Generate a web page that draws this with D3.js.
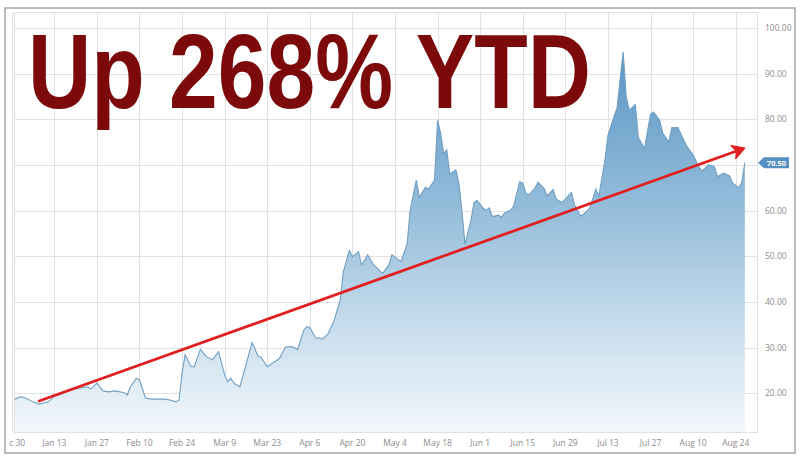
<!DOCTYPE html>
<html>
<head>
<meta charset="utf-8">
<script src="https://cdn.jsdelivr.net/npm/d3@7"></script>
<style>
  html, body { margin: 0; padding: 0; background: #ffffff; }
  svg { display: block; }
</style>
</head>
<body>
<svg id="chart" width="802" height="463"></svg>
<script>
// ---------------- DATA ----------------
const dates = [
  "2019-12-31","2020-01-02","2020-01-03","2020-01-06","2020-01-08","2020-01-11","2020-01-13","2020-01-16",
  "2020-01-19","2020-01-21","2020-01-24","2020-01-25","2020-01-27","2020-01-29","2020-01-31","2020-02-02",
  "2020-02-05","2020-02-06","2020-02-07","2020-02-09","2020-02-10","2020-02-12","2020-02-14","2020-02-18",
  "2020-02-20","2020-02-22","2020-02-23","2020-02-24","2020-02-25","2020-02-27","2020-02-28","2020-03-01",
  "2020-03-03","2020-03-05","2020-03-07","2020-03-09","2020-03-10","2020-03-11","2020-03-12","2020-03-14",
  "2020-03-16","2020-03-18","2020-03-20","2020-03-21","2020-03-23","2020-03-27","2020-03-29","2020-03-31",
  "2020-04-02","2020-04-04","2020-04-05","2020-04-06","2020-04-08","2020-04-09","2020-04-10","2020-04-12",
  "2020-04-14","2020-04-16","2020-04-17","2020-04-19","2020-04-20","2020-04-22","2020-04-23","2020-04-25",
  "2020-04-27","2020-04-28","2020-04-29","2020-04-30","2020-05-02","2020-05-03","2020-05-05","2020-05-06",
  "2020-05-08","2020-05-09","2020-05-11","2020-05-12","2020-05-14","2020-05-15","2020-05-17","2020-05-18",
  "2020-05-19","2020-05-20","2020-05-21","2020-05-22","2020-05-24","2020-05-25","2020-05-26","2020-05-27",
  "2020-05-29","2020-05-30","2020-05-31","2020-06-02","2020-06-03","2020-06-04","2020-06-05","2020-06-07",
  "2020-06-08","2020-06-09","2020-06-11","2020-06-12","2020-06-14","2020-06-15","2020-06-16","2020-06-17",
  "2020-06-19","2020-06-20","2020-06-22","2020-06-23","2020-06-25","2020-06-26","2020-06-28","2020-07-01",
  "2020-07-02","2020-07-04","2020-07-05","2020-07-07","2020-07-08","2020-07-09","2020-07-10","2020-07-12",
  "2020-07-13","2020-07-15","2020-07-16","2020-07-18","2020-07-19","2020-07-20","2020-07-22","2020-07-23",
  "2020-07-25","2020-07-27","2020-07-28","2020-07-30","2020-07-31","2020-08-02","2020-08-03","2020-08-05",
  "2020-08-07","2020-08-08","2020-08-10","2020-08-12","2020-08-13","2020-08-15","2020-08-17","2020-08-18",
  "2020-08-20","2020-08-22","2020-08-23","2020-08-25","2020-08-26","2020-08-27"
];
const prices = [
  18.7,19.2,19.1,18.1,17.6,18.1,19.3,20.0,
  20.8,21.1,21.4,20.9,22.2,20.5,20.3,20.5,
  20.1,19.6,21.4,23.3,22.9,18.9,18.7,18.7,
  18.5,18.1,18.5,24.4,28.4,25.8,25.8,29.6,
  28.0,27.3,29.1,24.0,22.5,23.3,22.2,21.4,
  26.2,31.1,28.1,27.9,25.8,27.6,30.1,30.2,
  29.6,33.8,34.6,34.4,32.0,32.2,31.8,33.0,
  36.0,40.4,46.5,51.3,49.9,51.0,48.1,50.3,
  48.1,47.5,46.8,46.3,48.1,50.3,49.3,48.8,
  52.8,60.1,66.7,62.9,65.1,64.7,66.7,79.8,
  76.9,72.5,73.3,68.0,68.9,66.0,60.0,52.6,
  58.0,61.8,62.2,60.5,60.1,60.6,58.7,59.0,
  58.5,59.5,60.1,61.0,66.3,66.0,63.8,63.4,
  64.9,66.2,64.9,63.2,64.6,62.5,61.8,64.0,
  61.2,58.8,59.2,60.5,62.5,64.7,63.2,71.0,
  76.5,80.6,82.5,94.8,85.0,82.0,83.2,76.0,
  73.6,81.1,81.6,79.8,77.0,75.0,78.2,78.2,
  75.3,74.0,72.2,69.4,68.7,70.0,69.6,67.4,
  68.2,67.6,66.0,65.0,66.2,70.5
];
const xTickDates = ["2019-12-30","2020-01-13","2020-01-27","2020-02-10","2020-02-24","2020-03-09","2020-03-23",
  "2020-04-06","2020-04-20","2020-05-04","2020-05-18","2020-06-01","2020-06-15","2020-06-29","2020-07-13",
  "2020-07-27","2020-08-10","2020-08-24"];
const xTickLabels = ["Dec 30","Jan 13","Jan 27","Feb 10","Feb 24","Mar 9","Mar 23","Apr 6","Apr 20","May 4",
  "May 18","Jun 1","Jun 15","Jun 29","Jul 13","Jul 27","Aug 10","Aug 24"];
const yTicks = [20, 30, 40, 50, 60, 70, 80, 90, 100];
const lastPrice = 70.50;
const titleText = "Up 268% YTD";
const arrowFrom = ["2020-01-08", 18.3];
const arrowTo = ["2020-08-27", 73.7];

// ---------------- SETUP ----------------
const parse = d3.timeParse("%Y-%m-%d");
const series = dates.map((d, i) => ({ date: parse(d), value: prices[i] }));

const svg = d3.select("#chart");
const W = 802, H = 463;
const plot = { left: 14, right: 757, top: 12, bottom: 432 };

const x = d3.scaleTime()
  .domain([new Date(2019, 11, 30, 18), new Date(2020, 7, 31, 0)])
  .range([plot.left, plot.right]);
const y = d3.scaleLinear()
  .domain([11.5, 103.5])
  .range([plot.bottom, plot.top]);

const defs = svg.append("defs");
const grad = defs.append("linearGradient")
  .attr("id", "areaGrad")
  .attr("gradientUnits", "userSpaceOnUse")
  .attr("x1", 0).attr("x2", 0)
  .attr("y1", plot.top).attr("y2", plot.bottom);
grad.append("stop").attr("offset", "0%").attr("stop-color", "#4d8cbf");
grad.append("stop").attr("offset", "45%").attr("stop-color", "#92bbd9");
grad.append("stop").attr("offset", "100%").attr("stop-color", "#f3f8fc");

defs.append("clipPath").attr("id", "xclip")
  .append("rect").attr("x", 9.5).attr("y", 0).attr("width", W - 9.5 - 6).attr("height", H);
defs.append("clipPath").attr("id", "yclip")
  .append("rect").attr("x", 0).attr("y", 0).attr("width", 792).attr("height", H);

// background
svg.append("rect").attr("width", W).attr("height", H).attr("fill", "#ffffff");

// grid
const grid = svg.append("g");
grid.selectAll("line.h").data(yTicks).join("line")
  .attr("x1", plot.left).attr("x2", plot.right)
  .attr("y1", d => Math.round(y(d)) + 0.5).attr("y2", d => Math.round(y(d)) + 0.5)
  .attr("stroke", "#e2e2e2").attr("stroke-width", 1);
grid.selectAll("line.v").data(xTickDates).join("line")
  .attr("x1", d => Math.round(x(parse(d))) + 0.5).attr("x2", d => Math.round(x(parse(d))) + 0.5)
  .attr("y1", plot.top).attr("y2", plot.bottom)
  .attr("stroke", "#e2e2e2").attr("stroke-width", 1);
grid.append("rect")
  .attr("x", plot.left + 0.5).attr("y", plot.top + 0.5)
  .attr("width", plot.right - plot.left).attr("height", plot.bottom - plot.top)
  .attr("fill", "none").attr("stroke", "#e0e0e0");

// area + line
const area = d3.area().x(d => x(d.date)).y0(plot.bottom).y1(d => y(d.value)).curve(d3.curveLinear);
const line = d3.line().x(d => x(d.date)).y(d => y(d.value)).curve(d3.curveLinear);
svg.append("path").datum(series).attr("d", area).attr("fill", "url(#areaGrad)");
svg.append("path").datum(series).attr("d", line)
  .attr("fill", "none").attr("stroke", "#6f9fc4").attr("stroke-width", 1.1);

// x axis labels
const xAxisG = svg.append("g").attr("clip-path", "url(#xclip)");
xAxisG.selectAll("text").data(xTickDates).join("text")
  .attr("x", d => x(parse(d)))
  .attr("y", 446)
  .attr("text-anchor", "middle")
  .attr("font-family", "'Open Sans', sans-serif")
  .attr("font-size", 8.5)
  .attr("fill", "#8c8c8c")
  .text((d, i) => xTickLabels[i]);

// y axis labels
const yAxisG = svg.append("g").attr("clip-path", "url(#yclip)");
yAxisG.selectAll("text").data(yTicks.filter(v => v !== 70)).join("text")
  .attr("x", 765)
  .attr("y", d => y(d) + 3)
  .attr("font-family", "'Open Sans', sans-serif")
  .attr("font-size", 8.5)
  .attr("fill", "#8c8c8c")
  .text(d => d3.format(".2f")(d));

// last price badge
const by = y(lastPrice);
const badge = svg.append("g");
badge.append("path")
  .attr("d", `M758,${by} L764,${by - 5.5} L789,${by - 5.5} L789,${by + 5.5} L764,${by + 5.5} Z`)
  .attr("fill", "#5690c0");
badge.append("text")
  .attr("x", 776.5).attr("y", by + 3)
  .attr("text-anchor", "middle")
  .attr("font-family", "'Open Sans', sans-serif")
  .attr("font-size", 7.5).attr("font-weight", 700)
  .attr("fill", "#ffffff")
  .text(d3.format(".2f")(lastPrice));

// red arrow annotation
const ax0 = x(parse(arrowFrom[0])), ay0 = y(arrowFrom[1]);
const ax1 = x(parse(arrowTo[0])), ay1 = y(arrowTo[1]);
const ang = Math.atan2(ay1 - ay0, ax1 - ax0);
const back = ang + Math.PI;
const headLen = 14, spread = Math.PI / 6;
const hx1 = ax1 + headLen * Math.cos(back - spread), hy1 = ay1 + headLen * Math.sin(back - spread);
const hx2 = ax1 + headLen * Math.cos(back + spread), hy2 = ay1 + headLen * Math.sin(back + spread);
const nx = ax1 + 9 * Math.cos(back), ny = ay1 + 9 * Math.sin(back);
svg.append("line")
  .attr("x1", ax0).attr("y1", ay0)
  .attr("x2", ax1 + 5 * Math.cos(back)).attr("y2", ay1 + 5 * Math.sin(back))
  .attr("stroke", "#e02020").attr("stroke-width", 2.8).attr("stroke-linecap", "round");
svg.append("path")
  .attr("d", `M${ax1},${ay1} L${hx1},${hy1} L${nx},${ny} L${hx2},${hy2} Z`)
  .attr("fill", "#e02020").attr("stroke", "#e02020").attr("stroke-width", 1.2).attr("stroke-linejoin", "round");

// title
svg.append("text")
  .attr("x", 28).attr("y", 108)
  .attr("font-family", "'Liberation Sans', Arial, sans-serif")
  .attr("font-weight", 700)
  .attr("font-size", 106)
  .attr("fill", "#7c0a0a")
  .attr("textLength", 563)
  .attr("lengthAdjust", "spacingAndGlyphs")
  .text(titleText);

// outer frame
svg.append("rect")
  .attr("x", 5).attr("y", 8).attr("width", 790).attr("height", 445)
  .attr("fill", "none").attr("stroke", "#a8a8a8").attr("stroke-width", 1.5);
</script>
</body>
</html>
